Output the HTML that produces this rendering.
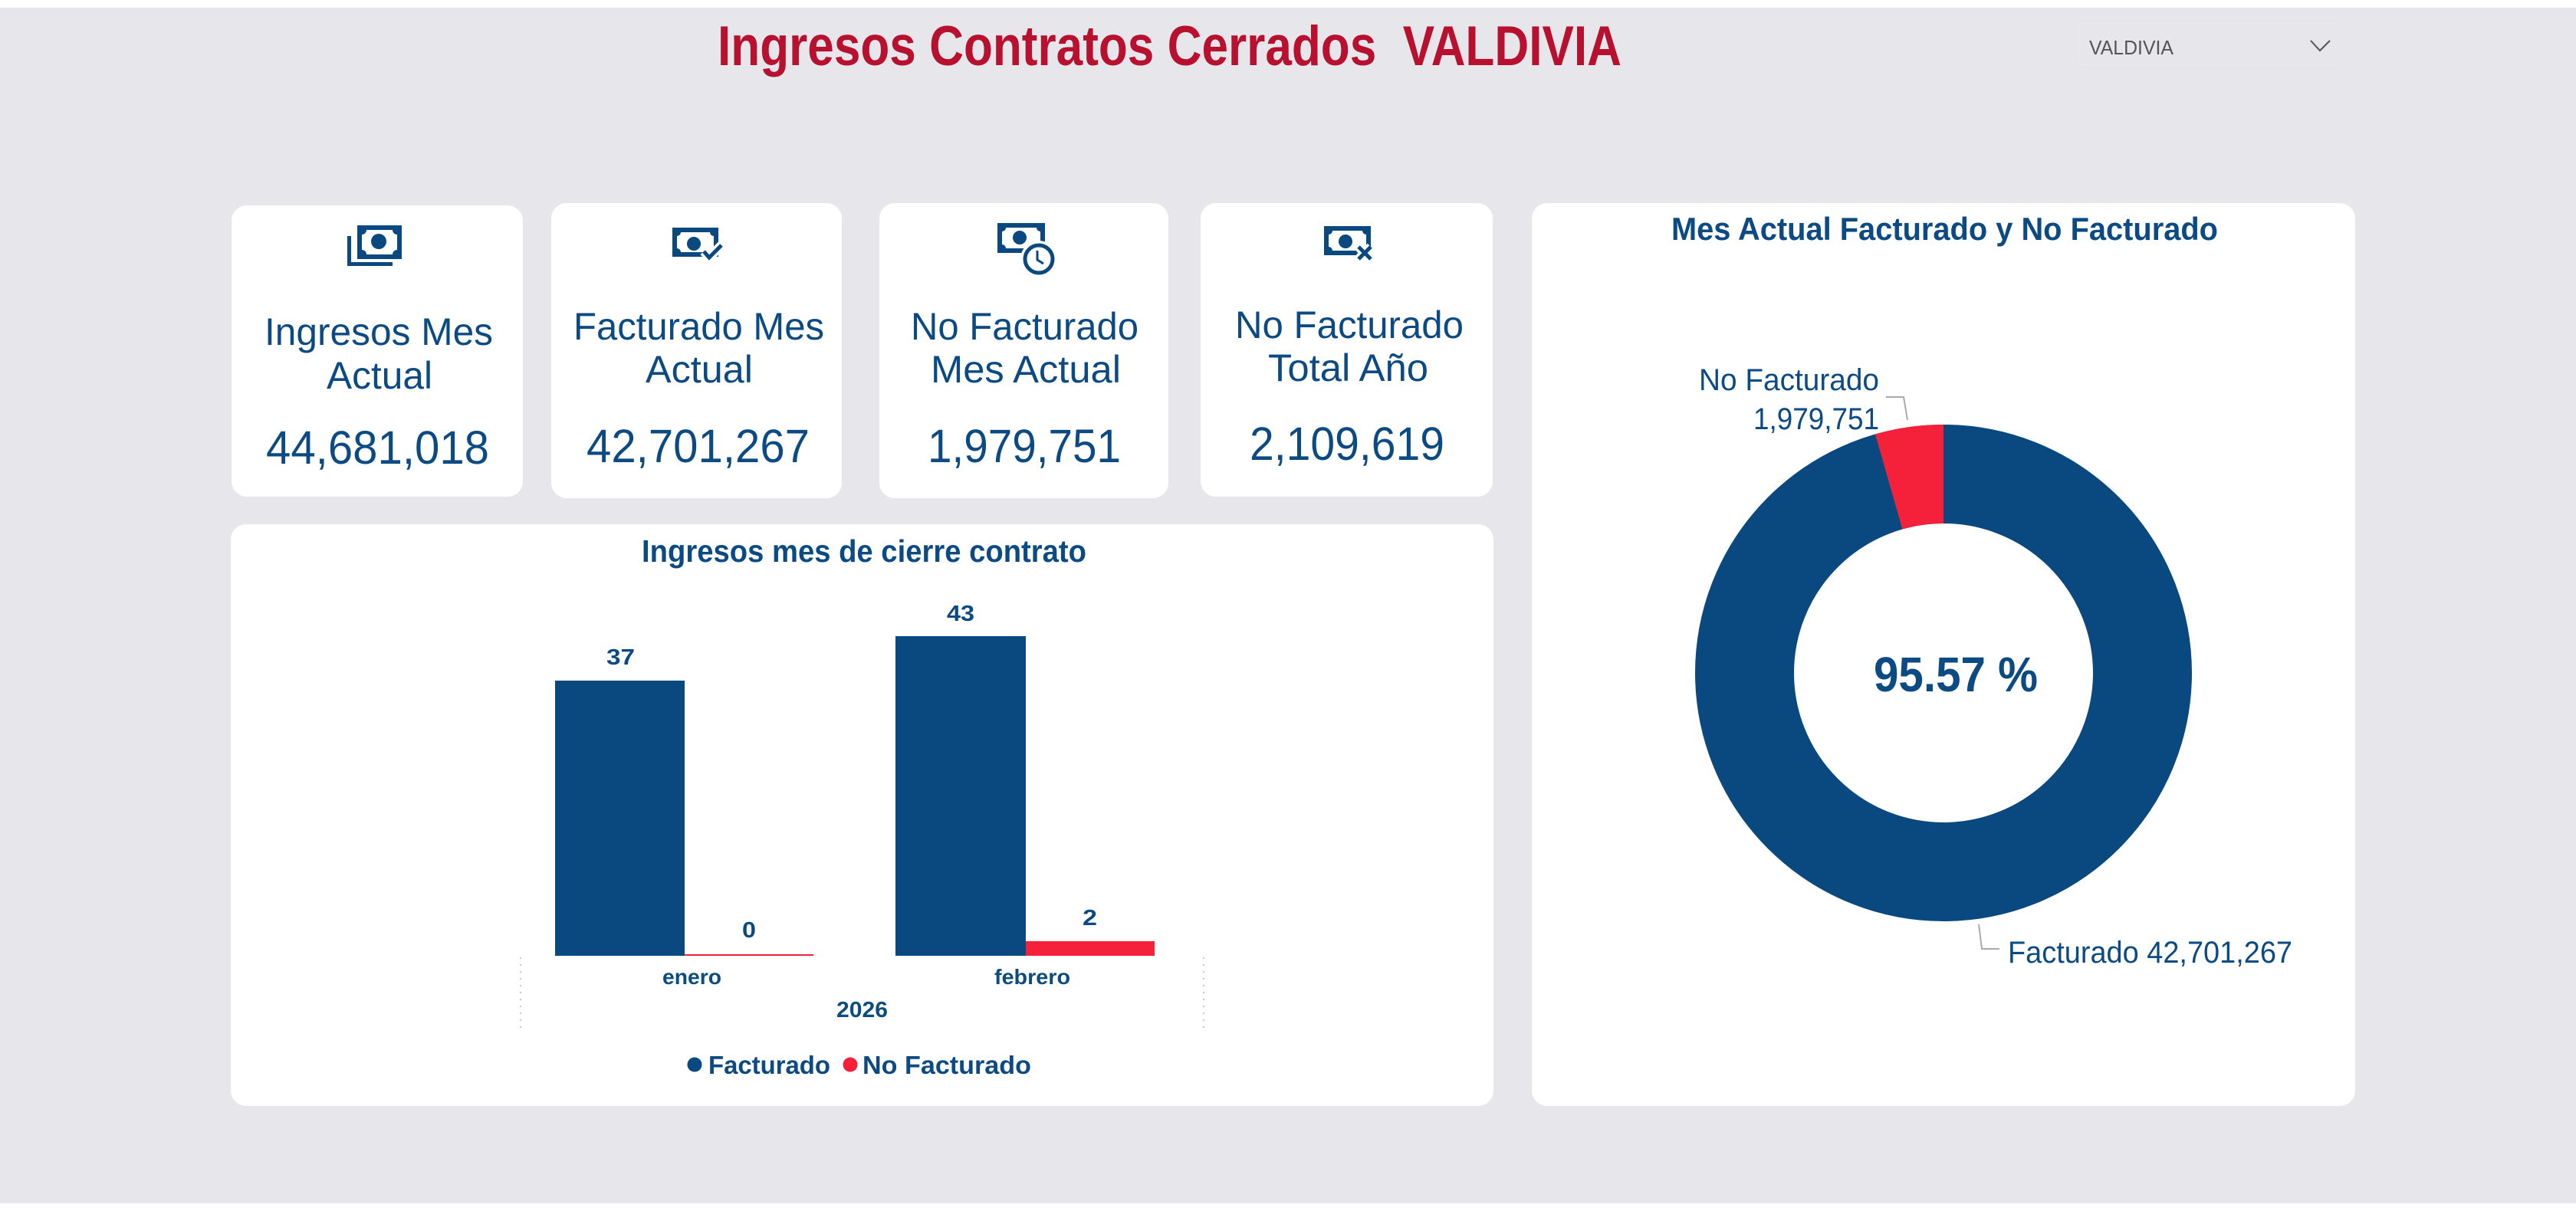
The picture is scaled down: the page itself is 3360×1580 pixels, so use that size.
<!DOCTYPE html>
<html>
<head>
<meta charset="utf-8">
<style>
  html,body{margin:0;padding:0;background:#ffffff;}
  body{width:3360px;height:1580px;overflow:hidden;}
  svg{display:block;}
  text{font-family:"Liberation Sans", Arial, sans-serif;}
  .b{font-weight:bold;}
</style>
</head>
<body>
<svg width="3360" height="1580" viewBox="0 0 3360 1580" xmlns="http://www.w3.org/2000/svg">
  <!-- background -->
  <rect x="0" y="0" width="3360" height="1580" fill="#ffffff"/>
  <rect x="0" y="10" width="3360" height="1560" fill="#e6e6eb"/>

  <!-- Title -->
  <text x="936" y="85" font-size="73" class="b" fill="#b8102f" textLength="1179" lengthAdjust="spacingAndGlyphs" style="white-space:pre" xml:space="preserve">Ingresos Contratos Cerrados  VALDIVIA</text>

  <!-- Slicer -->
  <rect x="2713" y="31" width="337" height="54" fill="none" stroke="#e9e9ec" stroke-width="2"/>
  <text x="2725" y="71" font-size="26" fill="#555555" textLength="110" lengthAdjust="spacingAndGlyphs">VALDIVIA</text>
  <polyline points="3014,53 3026,66 3039,53" fill="none" stroke="#555555" stroke-width="2"/>

  <!-- Cards -->
  <rect x="302" y="268" width="380" height="380" rx="20" ry="20" fill="#ffffff"/>
  <rect x="719" y="265" width="379" height="385" rx="20" ry="20" fill="#ffffff"/>
  <rect x="1147" y="265" width="377" height="385" rx="20" ry="20" fill="#ffffff"/>
  <rect x="1566" y="265" width="381" height="383" rx="20" ry="20" fill="#ffffff"/>

  <!-- Icon 1 -->
  <g fill="#0a4880">
    <rect x="453" y="308" width="5" height="39"/>
    <rect x="453" y="342" width="59" height="5"/>
    <rect x="466" y="294" width="58" height="44"/>
    <rect x="472" y="300" width="46" height="32" fill="#ffffff"/>
    <circle cx="472" cy="300" r="6"/>
    <circle cx="518" cy="300" r="6"/>
    <circle cx="472" cy="332" r="6"/>
    <circle cx="518" cy="332" r="6"/>
    <circle cx="494" cy="315" r="10"/>
  </g>

  <!-- Icon 2 -->
  <g fill="#0a4880">
    <rect x="877" y="297" width="60" height="38"/>
    <rect x="883" y="303" width="48" height="26" fill="#ffffff"/>
    <circle cx="883" cy="303" r="5"/>
    <circle cx="931" cy="303" r="5"/>
    <circle cx="883" cy="329" r="5"/>
    <circle cx="931" cy="329" r="5"/>
    <circle cx="905" cy="318" r="9"/>
    <polyline points="918,328 925,336 941,320" fill="none" stroke="#ffffff" stroke-width="12"/>
    <polyline points="918,328 925,336 941,320" fill="none" stroke="#0a4880" stroke-width="5"/>
  </g>

  <!-- Icon 3 -->
  <g fill="#0a4880">
    <rect x="1301" y="291" width="62" height="39"/>
    <rect x="1307" y="297" width="50" height="27" fill="#ffffff"/>
    <circle cx="1307" cy="297" r="5"/>
    <circle cx="1357" cy="297" r="5"/>
    <circle cx="1307" cy="324" r="5"/>
    <circle cx="1357" cy="324" r="5"/>
    <circle cx="1330" cy="310" r="9"/>
    <circle cx="1355" cy="338" r="24" fill="#ffffff"/>
    <circle cx="1355" cy="338" r="18" fill="#ffffff" stroke="#0a4880" stroke-width="5"/>
    <polyline points="1353,327 1353,339 1361,344" fill="none" stroke="#0a4880" stroke-width="3"/>
  </g>

  <!-- Icon 4 -->
  <g fill="#0a4880">
    <rect x="1727" y="295" width="61" height="38"/>
    <rect x="1733" y="301" width="49" height="26" fill="#ffffff"/>
    <circle cx="1733" cy="301" r="5"/>
    <circle cx="1782" cy="301" r="5"/>
    <circle cx="1733" cy="327" r="5"/>
    <circle cx="1782" cy="327" r="5"/>
    <circle cx="1755" cy="315" r="9"/>
    <g stroke="#ffffff" stroke-width="12">
      <line x1="1772" y1="322" x2="1788" y2="338"/>
      <line x1="1788" y1="322" x2="1772" y2="338"/>
    </g>
    <g stroke="#0a4880" stroke-width="5">
      <line x1="1772" y1="322" x2="1788" y2="338"/>
      <line x1="1788" y1="322" x2="1772" y2="338"/>
    </g>
  </g>

  <!-- Card texts -->
  <g fill="#0b4a83">
    <text x="345" y="450" font-size="50" textLength="298" lengthAdjust="spacingAndGlyphs">Ingresos Mes</text>
    <text x="426" y="507" font-size="50" textLength="138" lengthAdjust="spacingAndGlyphs">Actual</text>
    <text x="347" y="605" font-size="61" textLength="291" lengthAdjust="spacingAndGlyphs">44,681,018</text>

    <text x="748" y="443" font-size="50" textLength="327" lengthAdjust="spacingAndGlyphs">Facturado Mes</text>
    <text x="842" y="499" font-size="50" textLength="140" lengthAdjust="spacingAndGlyphs">Actual</text>
    <text x="765" y="603" font-size="61" textLength="291" lengthAdjust="spacingAndGlyphs">42,701,267</text>

    <text x="1188" y="443" font-size="50" textLength="297" lengthAdjust="spacingAndGlyphs">No Facturado</text>
    <text x="1214" y="499" font-size="50" textLength="248" lengthAdjust="spacingAndGlyphs">Mes Actual</text>
    <text x="1210" y="603" font-size="61" textLength="252" lengthAdjust="spacingAndGlyphs">1,979,751</text>

    <text x="1611" y="441" font-size="50" textLength="298" lengthAdjust="spacingAndGlyphs">No Facturado</text>
    <text x="1654" y="497" font-size="50" textLength="209" lengthAdjust="spacingAndGlyphs">Total Año</text>
    <text x="1630" y="600" font-size="61" textLength="254" lengthAdjust="spacingAndGlyphs">2,109,619</text>
  </g>

  <!-- Bar chart card -->
  <rect x="301" y="684" width="1647" height="759" rx="20" ry="20" fill="#ffffff"/>
  <text x="837" y="733" font-size="41" class="b" fill="#0b4a83" textLength="580" lengthAdjust="spacingAndGlyphs">Ingresos mes de cierre contrato</text>

  <rect x="724" y="888" width="169" height="359" fill="#0a4880"/>
  <rect x="893" y="1245" width="168" height="2" fill="#f5213b"/>
  <rect x="1168" y="830" width="170" height="417" fill="#0a4880"/>
  <rect x="1338" y="1228" width="168" height="19" fill="#f5213b"/>

  <g fill="#0b4a83" class="b" font-size="29">
    <text x="791" y="867" textLength="37" lengthAdjust="spacingAndGlyphs">37</text>
    <text x="1235" y="810" textLength="36" lengthAdjust="spacingAndGlyphs">43</text>
    <text x="968" y="1223" textLength="18" lengthAdjust="spacingAndGlyphs">0</text>
    <text x="1412" y="1207" textLength="19" lengthAdjust="spacingAndGlyphs">2</text>
  </g>

  <line x1="679" y1="1249" x2="679" y2="1341" stroke="#c8c8c8" stroke-width="2" stroke-dasharray="2,7"/>
  <line x1="1570" y1="1249" x2="1570" y2="1341" stroke="#c8c8c8" stroke-width="2" stroke-dasharray="2,7"/>

  <g fill="#0d4d7e" class="b">
    <text x="864" y="1284" font-size="28" textLength="77" lengthAdjust="spacingAndGlyphs">enero</text>
    <text x="1297" y="1284" font-size="28" textLength="99" lengthAdjust="spacingAndGlyphs">febrero</text>
    <text x="1091" y="1327" font-size="29" textLength="67" lengthAdjust="spacingAndGlyphs">2026</text>
  </g>

  <circle cx="906" cy="1389" r="9.5" fill="#0a4880"/>
  <text x="924" y="1401" font-size="33" class="b" fill="#0b4a83" textLength="159" lengthAdjust="spacingAndGlyphs">Facturado</text>
  <circle cx="1109" cy="1389" r="9.5" fill="#f5213b"/>
  <text x="1125" y="1401" font-size="33" class="b" fill="#0b4a83" textLength="220" lengthAdjust="spacingAndGlyphs">No Facturado</text>

  <!-- Donut card -->
  <rect x="1998" y="265" width="1074" height="1178" rx="20" ry="20" fill="#ffffff"/>
  <text x="2180" y="313" font-size="42" class="b" fill="#0b4a83" textLength="713" lengthAdjust="spacingAndGlyphs">Mes Actual Facturado y No Facturado</text>

  <circle cx="2535" cy="878" r="259.5" fill="none" stroke="#0a4880" stroke-width="129"/>
  <path d="M2535,554 L2535,683 A195,195 0 0 0 2481.4,690.5 L2445.9,566.5 A324,324 0 0 1 2535,554 Z" fill="#f5213b"/>

  <text x="2444" y="902" font-size="64" class="b" fill="#0b4a83" textLength="214" lengthAdjust="spacingAndGlyphs">95.57 %</text>

  <polyline points="2460,518 2483,518 2488,548" fill="none" stroke="#aaaaaa" stroke-width="2"/>
  <polyline points="2581,1206 2585,1238 2608,1238" fill="none" stroke="#aaaaaa" stroke-width="2"/>

  <g fill="#0b4a83" font-size="40">
    <text x="2216" y="509" textLength="235" lengthAdjust="spacingAndGlyphs">No Facturado</text>
    <text x="2287" y="560" textLength="164" lengthAdjust="spacingAndGlyphs">1,979,751</text>
    <text x="2619" y="1256" textLength="371" lengthAdjust="spacingAndGlyphs">Facturado 42,701,267</text>
  </g>
</svg>
</body>
</html>
